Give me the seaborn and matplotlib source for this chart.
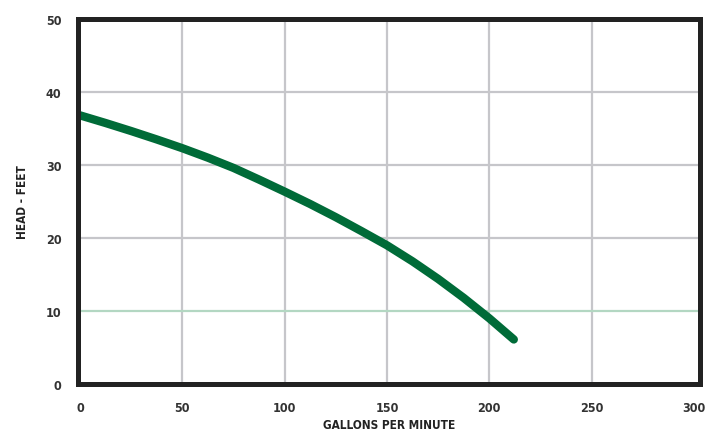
import matplotlib
matplotlib.use("Agg")
import matplotlib.pyplot as plt
import seaborn as sns
import pandas as pd

# pump curve
gpm = [0, 12.5, 25, 37.5, 50, 62.5, 75, 87.5, 100, 112.5, 125, 137.5,
       150, 162.5, 175, 187.5, 200, 212]
head = [36.8, 35.75, 34.65, 33.5, 32.3, 31.0, 29.6, 28.0, 26.35, 24.65, 22.85, 20.95,
        19.0, 16.8, 14.4, 11.8, 9.0, 6.1]

x_ticks = [0, 50, 100, 150, 200, 250, 300]
y_ticks = [0, 10, 20, 30, 40, 50]
green_line = 10

sns.set_theme(style="white")
plt.rcParams['font.family'] = ['DejaVu Sans']
plt.rcParams['font.stretch'] = 'condensed'
plt.rcParams['font.weight'] = 'bold'

fig = plt.figure(figsize=(7.2, 4.35), dpi=100)
ax = fig.add_axes([78 / 720, (435 - 385) / 435, (700 - 78) / 720, (385 - 20) / 435])

# grid
for v in x_ticks[1:-1]:
    ax.axvline(v, color='#c6c6ca', lw=1.6, zorder=1)
for h in y_ticks[1:-1]:
    if h == green_line:
        ax.axhline(h, color='#b3d7c2', lw=1.6, zorder=1.5)
    else:
        ax.axhline(h, color='#c6c6ca', lw=1.6, zorder=1)

df = pd.DataFrame({'gpm': gpm, 'head': head})
sns.lineplot(data=df, x='gpm', y='head', ax=ax, color='#006b38', lw=6,
             solid_capstyle='round', solid_joinstyle='round', zorder=3)

ax.set_xlim(-1, 303)
ax.set_ylim(0, 50)
ax.set_xticks(x_ticks)
ax.set_yticks(y_ticks)
ax.tick_params(axis='both', length=0, labelsize=9, labelcolor='#333333')
ax.tick_params(axis='x', pad=12)
ax.tick_params(axis='y', pad=12)
for lab in ax.get_xticklabels() + ax.get_yticklabels():
    lab.set_fontweight('bold')
    lab.set_fontstretch('condensed')

for s in ax.spines.values():
    s.set_visible(True)
    s.set_color('#222222')
    s.set_linewidth(3.6)
    s.set_zorder(4)

ax.set_xlabel('GALLONS PER MINUTE', fontsize=8.5, fontweight='bold',
              fontstretch='condensed', color='#222222', labelpad=3)
ax.set_ylabel('HEAD - FEET', fontsize=8.5, fontweight='bold',
              fontstretch='condensed', color='#222222', labelpad=12)

fig.savefig('out.png', dpi=100, facecolor='white')
